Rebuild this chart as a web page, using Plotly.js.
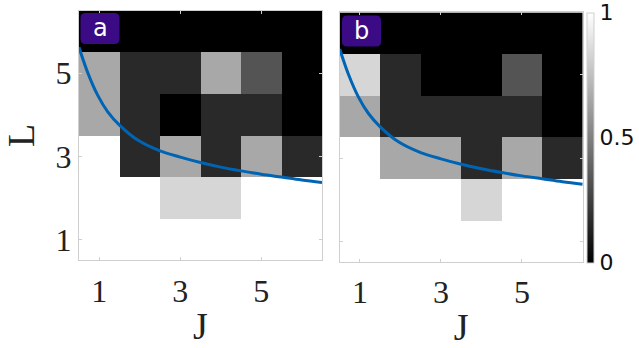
<!DOCTYPE html>
<html>
<head>
<meta charset="utf-8">
<script src="https://cdn.plot.ly/plotly-3.0.1.min.js"></script>
<style>
  html, body { margin: 0; padding: 0; background: #fff; }
  #chart { width: 639px; height: 348px; }
</style>
</head>
<body>
<div id="chart"></div>
<script>
// grid positions
const jValues = [1, 2, 3, 4, 5, 6];
const lValues = [1, 2, 3, 4, 5, 6];

// panel a, rows from L=1 up to L=6 (0 = black, 1 = white)
const zA = [
  [1, 1, 1, 1, 1, 1],
  [1, 1, 0.84, 0.84, 1, 1],
  [1, 0.16, 0.66, 0.16, 0.66, 0.16],
  [0.66, 0.16, 0, 0.16, 0.16, 0],
  [0.66, 0.16, 0.16, 0.66, 0.33, 0],
  [0, 0, 0, 0, 0, 0]
];

// panel b
const zB = [
  [1, 1, 1, 1, 1, 1],
  [1, 1, 1, 0.84, 1, 1],
  [1, 0.66, 0.66, 0.16, 0.66, 0.16],
  [0.66, 0.16, 0.16, 0.16, 0.16, 0],
  [0.84, 0.16, 0, 0, 0.33, 0],
  [0, 0, 0, 0, 0, 0]
];

// blue boundary curve
const curveJ = [0.5, 0.72, 0.96, 1.21, 1.5, 1.95, 2.5, 3.0, 3.5, 4.0, 4.5, 5.0, 5.5, 6.0, 6.5];
const curveL = [5.62, 5.0, 4.47, 4.07, 3.75, 3.39, 3.13, 2.98, 2.85, 2.74, 2.65, 2.57, 2.5, 2.43, 2.37];

const tickVals = [1, 3, 5];
const barTicks = [0, 0.5, 1];
const barLabels = ["0", "0.5", "1"];
const panelLabels = ["a", "b"];

const W = 639, H = 348;
const px = x => x / W;
const py = y => 1 - y / H;

const gray = [[0, "#000000"], [1, "#ffffff"]];
const blue = "#0064b4";
const axisGray = "#cfcfcf";

const traces = [
  {
    type: "heatmap", x: jValues, y: lValues, z: zA,
    colorscale: gray, zmin: 0, zmax: 1, showscale: false,
    xaxis: "x", yaxis: "y", hoverinfo: "skip"
  },
  {
    type: "heatmap", x: jValues, y: lValues, z: zB,
    colorscale: gray, zmin: 0, zmax: 1, showscale: true,
    xaxis: "x2", yaxis: "y2", hoverinfo: "skip",
    colorbar: {
      x: px(587), xanchor: "left", xpad: 0, ypad: 0, thickness: 7,
      y: py(12.5), yanchor: "top", len: (262 - 12.5) / H,
      outlinecolor: axisGray, outlinewidth: 1,
      tickvals: barTicks, ticktext: barLabels,
      ticks: "", ticklabelpad: 3, ticklabeloverflow: "allow",
      tickfont: { family: "DejaVu Sans", size: 22, color: "#111" }
    }
  },
  {
    type: "scatter", mode: "lines", x: curveJ, y: curveL,
    line: { color: blue, width: 3, shape: "spline" },
    xaxis: "x", yaxis: "y", showlegend: false, hoverinfo: "skip"
  },
  {
    type: "scatter", mode: "lines", x: curveJ, y: curveL,
    line: { color: blue, width: 3, shape: "spline" },
    xaxis: "x2", yaxis: "y2", showlegend: false, hoverinfo: "skip"
  }
];

const tickFont = { family: "Liberation Serif", size: 32, color: "#222" };
const titleFont = { family: "Liberation Serif", size: 38, color: "#222" };

function xAxis(domain, anchor) {
  return {
    domain: domain, anchor: anchor, range: [0.5, 6.5],
    tickvals: tickVals, ticks: "inside", ticklen: 3, tickcolor: axisGray,
    showline: true, linecolor: axisGray, linewidth: 1, mirror: "ticks",
    showgrid: false, zeroline: false, tickfont: tickFont,
    ticklabelstandoff: 2,
    title: { text: "J", font: titleFont, standoff: 4 }
  };
}

function yAxis(domain, anchor, labels) {
  return {
    domain: domain, anchor: anchor, range: [0.5, 6.5],
    tickvals: tickVals, ticks: "inside", ticklen: 3, tickcolor: axisGray,
    showline: true, linecolor: axisGray, linewidth: 1, mirror: "ticks",
    showgrid: false, zeroline: false, tickfont: tickFont,
    showticklabels: labels, ticklabelstandoff: 0,
    title: labels ? { text: "L", font: titleFont, standoff: 12 } : { text: "" }
  };
}

// rounded purple label boxes
function roundBox(x0, y0, x1, y1, r) {
  const rx = r / W, ry = r / H;
  const L = px(x0), R = px(x1), T = py(y0), B = py(y1);
  return {
    type: "path", xref: "paper", yref: "paper",
    path: `M ${L + rx} ${T} L ${R - rx} ${T} Q ${R} ${T} ${R} ${T - ry} ` +
          `L ${R} ${B + ry} Q ${R} ${B} ${R - rx} ${B} L ${L + rx} ${B} ` +
          `Q ${L} ${B} ${L} ${B + ry} L ${L} ${T - ry} Q ${L} ${T} ${L + rx} ${T} Z`,
    fillcolor: "#3b0b86", line: { width: 0 }, layer: "above"
  };
}

const boxes = [[80.5, 13, 119.5, 44], [342, 15.5, 381, 46.5]];

const layout = {
  width: W, height: H,
  margin: { l: 0, r: 0, t: 0, b: 0 },
  paper_bgcolor: "#ffffff", plot_bgcolor: "#ffffff",
  showlegend: false,
  xaxis: xAxis([px(79), px(322)], "y"),
  yaxis: yAxis([py(260.3), py(10.7)], "x", true),
  xaxis2: xAxis([px(339.7), px(582.7)], "y2"),
  yaxis2: yAxis([py(262), py(12.4)], "x2", false),
  shapes: boxes.map(b => roundBox(b[0], b[1], b[2], b[3], 5)),
  annotations: boxes.map((b, i) => ({
    xref: "paper", yref: "paper",
    x: px((b[0] + b[2]) / 2), y: py((b[1] + b[3]) / 2),
    xanchor: "center", yanchor: "middle", showarrow: false,
    text: panelLabels[i],
    font: { family: "DejaVu Sans", size: 24, color: "#ffffff" }
  }))
};

Plotly.newPlot("chart", traces, layout, { staticPlot: true });
</script>
</body>
</html>
